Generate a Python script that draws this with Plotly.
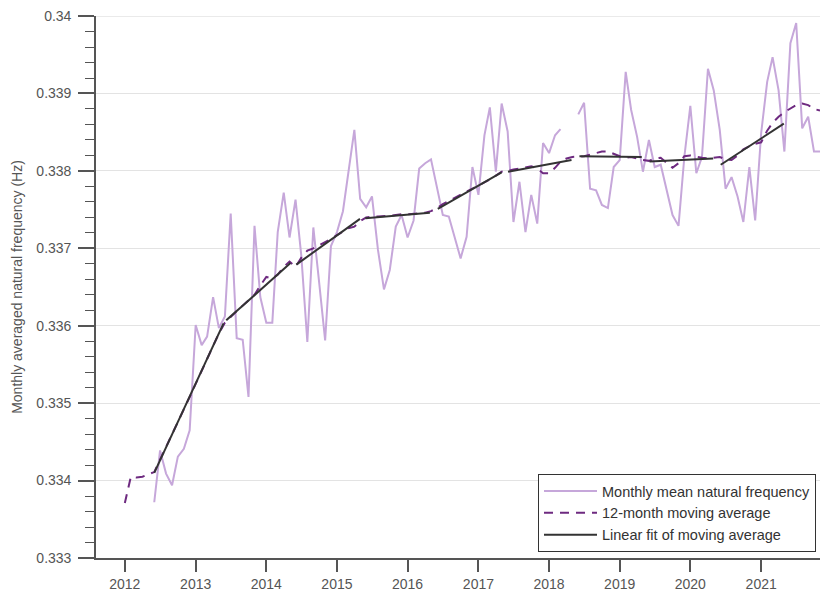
import plotly.graph_objects as go
import pandas as pd

# ---------------- data ----------------
# Monthly mean natural frequency, June 2012 .. November 2021 (None = missing month)
monthly_start = "2012-06-01"
monthly_values = [
    # 2012 Jun-Dec
    0.33372, 0.33439, 0.33409, 0.33394, 0.33431, 0.33441, 0.33465,
    # 2013
    0.33601, 0.33575, 0.33586, 0.33637, 0.33597, 0.33612, 0.33745, 0.33584, 0.33582, 0.33508, 0.33729, 0.33637,
    # 2014
    0.33604, 0.33604, 0.33721, 0.33772, 0.33714, 0.33763, 0.33690, 0.33579, 0.33727, 0.33656, 0.33581, 0.33703,
    # 2015
    0.33721, 0.33748, 0.33801, 0.33853, 0.33764, 0.33753, 0.33767, 0.33698, 0.33647, 0.33672, 0.33728, 0.33743,
    # 2016
    0.33714, 0.33736, 0.33803, 0.33810, 0.33815, 0.33780, 0.33743, 0.33741, 0.33715, 0.33687, 0.33715, 0.33805,
    # 2017
    0.33769, 0.33846, 0.33882, 0.33799, 0.33887, 0.33851, 0.33734, 0.33786, 0.33721, 0.33769, 0.33732, 0.33836,
    # 2018
    0.33823, 0.33846, 0.33854, None, None, 0.33873, 0.33888, 0.33777, 0.33775, 0.33756, 0.33752, 0.33805,
    # 2019
    0.33814, 0.33928, 0.33879, 0.33844, 0.33799, 0.33840, 0.33805, 0.33808, 0.33775, 0.33743, 0.33729, 0.33818,
    # 2020
    0.33884, 0.33797, 0.33818, 0.33932, 0.33904, 0.33853, 0.33777, 0.33792, 0.33767, 0.33734, 0.33805, 0.33736,
    # 2021 Jan-Nov
    0.33849, 0.33915, 0.33947, 0.33904, 0.33825, 0.33965, 0.33991, 0.33855, 0.33870, 0.33825, 0.33825,
]

# 12-month moving average, January 2012 .. November 2021
ma_start = "2012-01-01"
ma_values = [
    # 2012
    0.33371, 0.33405, 0.33404, 0.33405, 0.33408, 0.33411, 0.33427, 0.33443, 0.33459, 0.33476, 0.33492, 0.33508,
    # 2013
    0.33525, 0.33541, 0.33557, 0.33574, 0.33590, 0.33604, 0.33612, 0.33619, 0.33626, 0.33633, 0.33640, 0.33652,
    # 2014
    0.33663, 0.33661, 0.33666, 0.33676, 0.33683, 0.33676, 0.33688, 0.33697, 0.33700, 0.33704, 0.33708, 0.33712,
    # 2015
    0.33717, 0.33722, 0.33726, 0.33728, 0.33735, 0.33740, 0.33741, 0.33741, 0.33742, 0.33742, 0.33743, 0.33744,
    # 2016
    0.33744, 0.33745, 0.33745, 0.33746, 0.33748, 0.33752, 0.33757, 0.33761, 0.33765, 0.33769, 0.33773, 0.33777,
    # 2017
    0.33781, 0.33785, 0.33789, 0.33794, 0.33799, 0.33800, 0.33802, 0.33803, 0.33805, 0.33806, 0.33803, 0.33797,
    # 2018
    0.33797, 0.33804, 0.33812, 0.33816, 0.33818, 0.33819, 0.33819, 0.33821, 0.33823, 0.33825, 0.33825, 0.33822,
    # 2019
    0.33819, 0.33817, 0.33818, 0.33816, 0.33814, 0.33813, 0.33816, 0.33817, 0.33810, 0.33804, 0.33810, 0.33819,
    # 2020
    0.33820, 0.33818, 0.33817, 0.33816, 0.33817, 0.33818, 0.33815, 0.33814, 0.33820, 0.33828, 0.33832, 0.33835,
    # 2021
    0.33837, 0.33852, 0.33862, 0.33870, 0.33876, 0.33881, 0.33885, 0.33887, 0.33885, 0.33880, 0.33878,
]

# Piecewise (yearly) linear fits of the moving average: segment end points
fit_start_dates = ["2012-06-01", "2013-06-08", "2014-06-05", "2015-05-28", "2016-06-05",
                   "2017-06-03", "2018-06-07", "2019-06-04", "2020-06-06"]
fit_start_values = [0.33410, 0.33607, 0.33679, 0.33739, 0.33751, 0.33799, 0.33819, 0.33812, 0.33808]
fit_end_dates = ["2013-05-25", "2014-05-06", "2015-04-30", "2016-04-25", "2017-05-01",
                 "2018-04-27", "2019-04-25", "2020-04-28", "2021-04-28"]
fit_end_values = [0.33603, 0.33681, 0.33738, 0.33746, 0.33798, 0.33814, 0.33818, 0.33816, 0.33861]

year_ticks = [str(y) for y in range(2012, 2022)]
y_ticks = [0.333, 0.334, 0.335, 0.336, 0.337, 0.338, 0.339, 0.34]
y_tick_text = ["0.333", "0.334", "0.335", "0.336", "0.337", "0.338", "0.339", "0.34"]

series_names = ["Monthly mean natural frequency", "12-month moving average", "Linear fit of moving average"]

# ---------------- build ----------------
monthly_dates = pd.date_range(monthly_start, periods=len(monthly_values), freq="MS")
ma_dates = pd.date_range(ma_start, periods=len(ma_values), freq="MS")

fit_x, fit_y = [], []
for sd, sv, ed, ev in zip(fit_start_dates, fit_start_values, fit_end_dates, fit_end_values):
    fit_x += [sd, ed, None]
    fit_y += [sv, ev, None]

FONT = "Liberation Sans, Arial, sans-serif"
AXIS_COL = "#555555"
GRID_COL = "#e3e3e3"

fig = go.Figure()
fig.add_trace(go.Scatter(
    x=monthly_dates, y=monthly_values, mode="lines", name=series_names[0],
    line=dict(color="#c6a7da", width=2), connectgaps=False,
))
fig.add_trace(go.Scatter(
    x=ma_dates, y=ma_values, mode="lines", name=series_names[1],
    line=dict(color="#6e2a80", width=2, dash="9px,7px"),
))
fig.add_trace(go.Scatter(
    x=fit_x, y=fit_y, mode="lines", name=series_names[2],
    line=dict(color="#333333", width=2), connectgaps=False,
))

fig.update_layout(
    width=820, height=603,
    margin=dict(l=96, r=0, t=16, b=45, autoexpand=False),
    paper_bgcolor="white", plot_bgcolor="white",
    font=dict(family=FONT, size=13, color=AXIS_COL),
    showlegend=True,
    legend=dict(
        x=0.6105, xanchor="left", y=0.011, yanchor="bottom",
        bordercolor="#333333", borderwidth=1, bgcolor="white",
        font=dict(family=FONT, size=14.5, color="#333333"),
        tracegroupgap=0, itemwidth=53,
    ),
)

# top grid line (plotly omits gridlines lying on the plot edge)
fig.add_shape(type="line", xref="paper", x0=0, x1=1, yref="y", y0=y_ticks[-1], y1=y_ticks[-1],
              line=dict(color=GRID_COL, width=1.2), layer="below")

fig.update_xaxes(
    type="date", automargin=False,
    range=["2011-08-05", "2021-11-01"],
    tickvals=[f"{y}-01-01" for y in year_ticks],
    ticktext=year_ticks,
    ticks="outside", ticklen=12, tickwidth=1.5, tickcolor=AXIS_COL,
    showline=True, linecolor=AXIS_COL, linewidth=1.6,
    showgrid=False, zeroline=False,
    tickfont=dict(size=14, color=AXIS_COL),
)
fig.update_yaxes(
    automargin=False,
    range=[0.333, 0.340001],
    tickvals=y_ticks, ticktext=y_tick_text,
    ticks="outside", ticklen=16, tickwidth=1.5, tickcolor=AXIS_COL,
    showline=True, linecolor=AXIS_COL, linewidth=1.6,
    showgrid=True, gridcolor=GRID_COL, gridwidth=1.2,
    zeroline=False, ticklabelstandoff=4, ticklabeloverflow="allow",
    minor=dict(dtick=0.0002, tick0=0.333, ticks="outside", ticklen=9,
               tickwidth=1.2, tickcolor=AXIS_COL, showgrid=False),
    tickfont=dict(size=14, color=AXIS_COL),
    title=dict(text="Monthly averaged natural frequency (Hz)",
               font=dict(size=14, color=AXIS_COL), standoff=10),
)

# remove the browser's default 8px body margin so the figure fills the window
fig.write_html("out.html", config={"displayModeBar": False},
               post_script="document.body.style.margin='0';")
